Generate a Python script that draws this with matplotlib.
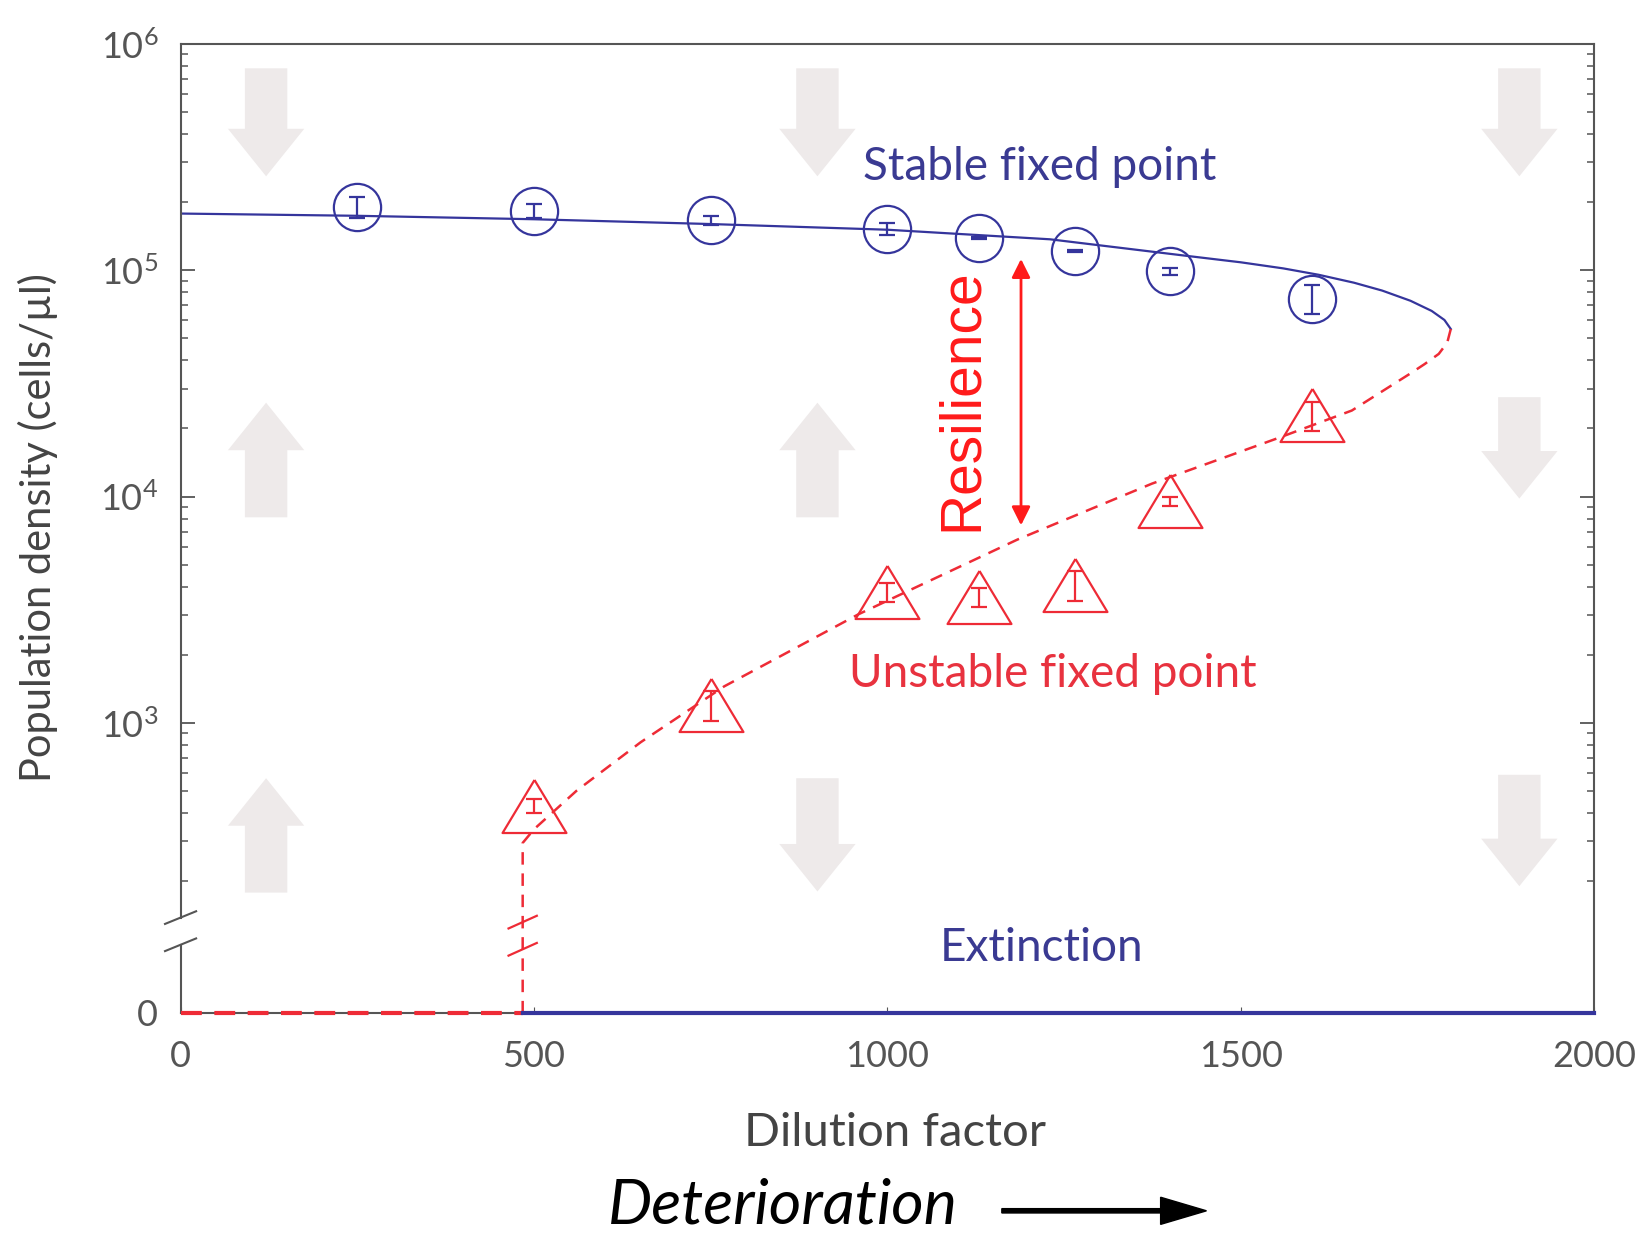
import numpy as np
import matplotlib
matplotlib.use("Agg")
from matplotlib import pyplot as plt
from matplotlib.patches import FancyArrow

plt.rcParams['font.family'] = ['Lato', 'DejaVu Sans']

# measured fixed points (dilution factor vs population density, cells/ul)
stable_x = [250, 500, 750, 1000, 1130, 1265, 1400, 1600]
stable_y = [1.90e5, 1.83e5, 1.66e5, 1.52e5, 1.39e5, 1.22e5, 9.9e4, 7.5e4]
stable_err = [2.0e4, 1.3e4, 8.0e3, 9.0e3, 1.6e3, 1.4e3, 3.4e3, 1.1e4]

unstable_x = [500, 750, 1000, 1130, 1265, 1400, 1600]
unstable_y = [430, 1200, 3780, 3590, 4070, 9550, 22900]
unstable_err = [31, 178, 360, 345, 600, 450, 3400]

# model curves
stable_curve_x = [0, 250, 500, 750, 1000, 1230, 1420, 1500, 1560, 1610, 1660, 1700,
                  1740, 1770, 1788, 1797]
stable_curve_y = [1.78e5, 1.74e5, 1.68e5, 1.60e5, 1.51e5, 1.37e5, 1.161e5, 1.084e5,
                  1.019e5, 9.55e4, 8.81e4, 8.13e4, 7.33e4, 6.61e4, 6.03e4, 5.50e4]
unstable_curve_x = [1797, 1792, 1780, 1760, 1738, 1657, 1554, 1374, 1184, 959, 769,
                    651, 560, 500, 484, 484]
unstable_curve_y = [5.50e4, 4.79e4, 4.27e4, 3.85e4, 3.47e4, 2.40e4, 1.82e4, 1.14e4,
                    6.46e3, 3.02e3, 1.45e3, 822, 501, 339, 295, 0]
extinct_unstable_x = [0, 484]
extinct_stable_x = [484, 2000]

# background flow arrows: x, start density, end density
flow_x = [121, 901, 1894, 121, 901, 1894, 121, 901, 1894]
flow_from = [7.8e5, 7.8e5, 7.8e5, 8.1e3, 8.1e3, 2.75e4, 1.78e2, 5.7e2, 5.9e2]
flow_to = [2.6e5, 2.6e5, 2.6e5, 2.6e4, 2.6e4, 9.8e3, 5.7e2, 1.8e2, 1.9e2]

ZERO_POS = 1.72
BLUE = '#35359c'
RED = '#ee2b36'
GREY = '#555555'


def ypos(v):
    v = np.asarray(v, dtype=float)
    out = np.full(v.shape, ZERO_POS)
    out[v > 0] = np.log10(v[v > 0])
    return out


fig = plt.figure(figsize=(16.37, 12.33), dpi=100)
ax = fig.add_axes([0.1103, 0.1787, 0.8636, 0.7857])
ax.set_xlim(0, 2000)
ax.set_ylim(ZERO_POS, 6.0)

# flow arrows
for x, a, b in zip(flow_x, flow_from, flow_to):
    y0, y1 = ypos(a), ypos(b)
    ax.add_patch(FancyArrow(x, y0, 0, y1 - y0, width=60, head_width=108,
                            head_length=0.21, length_includes_head=True,
                            color='#eeeaea', lw=0, zorder=0))

# curves
ax.plot(stable_curve_x, ypos(stable_curve_y), color=BLUE, lw=1.6, zorder=2)
ax.plot(unstable_curve_x, ypos(unstable_curve_y), color=RED, lw=1.8,
        ls=(0, (5, 3.5)), zorder=2, clip_on=False)
ax.plot(extinct_unstable_x, ypos([0, 0]), color=RED, lw=3, ls=(0, (5, 3)),
        clip_on=False, zorder=3)
ax.plot(extinct_stable_x, ypos([0, 0]), color=BLUE, lw=3, clip_on=False, zorder=3)

# data points with error bars
sy = np.array(stable_y)
se = np.array(stable_err)
ax.errorbar(stable_x, np.log10(sy),
            yerr=[np.log10(sy) - np.log10(sy - se), np.log10(sy + se) - np.log10(sy)],
            fmt='none', ecolor=BLUE, elinewidth=1.6, capsize=6, capthick=1.6, zorder=4)
ax.plot(stable_x, np.log10(sy), ls='none', marker='o', ms=34, mfc='none',
        mec=BLUE, mew=1.6, zorder=4)

uy = np.array(unstable_y, dtype=float)
ue = np.array(unstable_err, dtype=float)
ax.errorbar(unstable_x, np.log10(uy),
            yerr=[np.log10(uy) - np.log10(uy - ue), np.log10(uy + ue) - np.log10(uy)],
            fmt='none', ecolor=RED, elinewidth=1.6, capsize=6, capthick=1.6, zorder=4)
tri = [(0, 0.83), (-1, -0.83), (1, -0.83), (0, 0.83)]
ax.plot(unstable_x, np.log10(uy), ls='none', marker=tri, ms=46, mfc='none',
        mec=RED, mew=1.6, zorder=4)

# annotations
ax.text(966, 5.455, 'Stable fixed point', color='#3a3a92', fontsize=33,
        va='center', ha='left')
ax.text(945, 3.217, 'Unstable fixed point', color='#e8323f', fontsize=33,
        va='center', ha='left')
ax.text(1074, 2.004, 'Extinction', color='#3a3a92', fontsize=33,
        va='center', ha='left')
ax.text(1106, 4.43, 'Resilience', color='#ff1a1a', fontsize=41, rotation=90,
        va='center', ha='center', family='Liberation Sans')
ax.annotate('', xy=(1189, 5.05), xytext=(1189, 3.873),
            arrowprops=dict(arrowstyle='<|-|>', color='#ff1a1a', lw=2,
                            mutation_scale=28, shrinkA=0, shrinkB=0))

# spines and axis break
for s in ['top', 'right', 'bottom']:
    ax.spines[s].set_color(GREY)
    ax.spines[s].set_linewidth(1.5)
ax.spines['left'].set_visible(False)
ax.plot([0, 0], [ZERO_POS, 2.02], color=GREY, lw=1.5, clip_on=False)
ax.plot([0, 0], [2.14, 6.0], color=GREY, lw=1.5, clip_on=False)
for yb in [2.02, 2.14]:
    ax.plot([-22, 22], [yb - 0.028, yb + 0.028], color=GREY, lw=1.5, clip_on=False)
for yb in [2.0, 2.12]:
    ax.plot([464, 504], [yb - 0.028, yb + 0.028], color=RED, lw=1.6, clip_on=False)

# ticks
majors = [ZERO_POS, 3, 4, 5, 6]
ax.set_yticks(majors)
ax.set_yticklabels(['0', r'$\mathregular{10^{3}}$', r'$\mathregular{10^{4}}$',
                    r'$\mathregular{10^{5}}$', r'$\mathregular{10^{6}}$'])
minors = [np.log10(k * 10.0 ** n) for n in range(2, 6) for k in range(2, 10)]
ax.set_yticks([m for m in minors if m > 2.2], minor=True)
ax.tick_params(axis='y', which='both', direction='in', left=True, right=True,
               colors=GREY, labelsize=26, pad=16)
ax.tick_params(axis='y', which='major', length=10, width=1.3)
ax.tick_params(axis='y', which='minor', length=5, width=1.1)
ax.set_xticks([0, 500, 1000, 1500, 2000])
ax.tick_params(axis='x', direction='in', length=4, colors=GREY, labelsize=26,
               pad=20, top=False)

fig.text(0.023, 0.572, 'Population density (cells/\u00b5l)', rotation=90,
         ha='center', va='center', fontsize=30, color='#444444')
fig.text(0.547, 0.081, 'Dilution factor', ha='center', va='center',
         fontsize=34, color='#444444')
fig.text(0.478, 0.022, 'Deterioration', ha='center', va='center',
         fontsize=45, style='italic', color='black')
fig.add_artist(FancyArrow(0.612, 0.018, 0.125, 0, width=0.0035, head_width=0.022,
                          head_length=0.028, length_includes_head=True,
                          color='black', transform=fig.transFigure))

fig.savefig('out.png', dpi=100)
